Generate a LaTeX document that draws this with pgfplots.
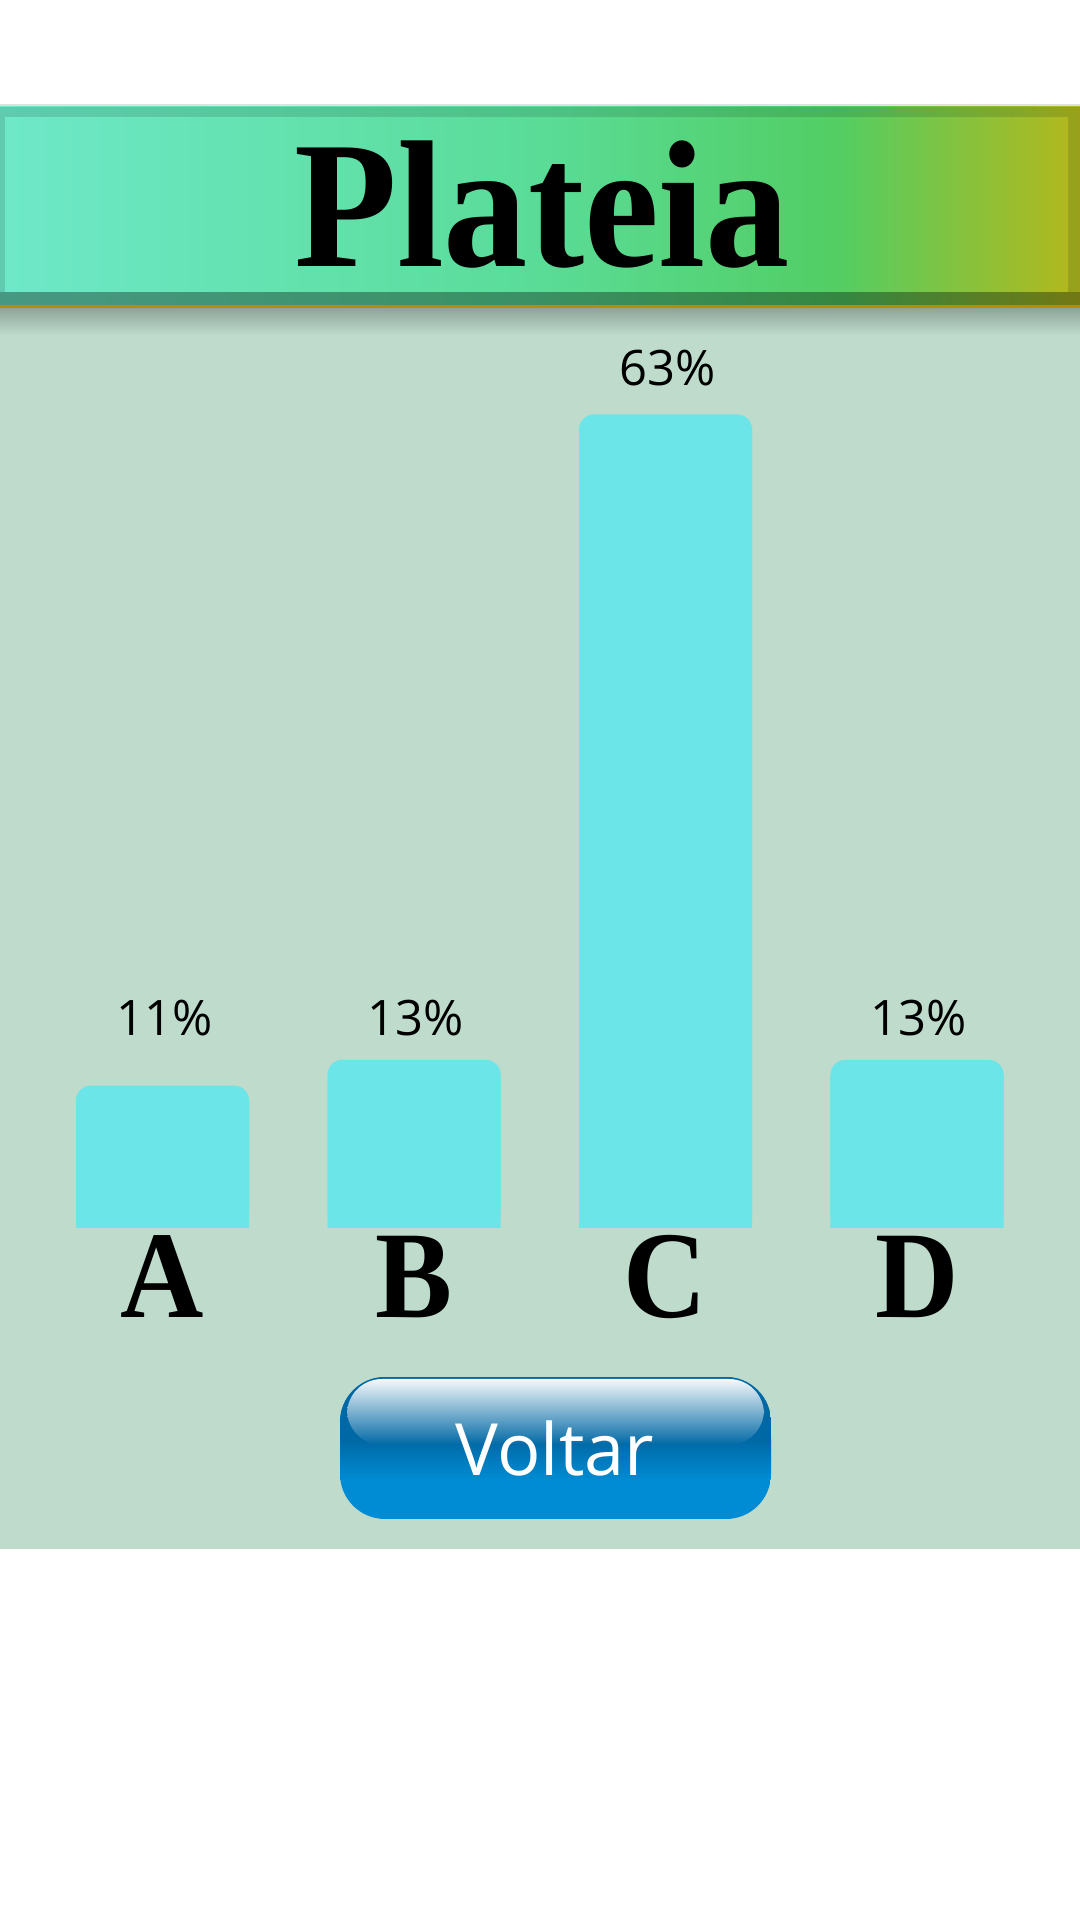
\documentclass[border=0pt]{standalone}
\usepackage{pgfplots}
\pgfplotsset{compat=1.18}
\usepackage{fontspec}
\setmainfont{Open Sans}
\newfontfamily\dispfont[FakeStretch=0.93]{Liberation Serif Bold}

\definecolor{bg}{RGB}{190,219,204}
\definecolor{barc}{RGB}{107,229,232}
\definecolor{h1}{RGB}{110,232,200}
\definecolor{h2}{RGB}{90,220,152}
\definecolor{h3}{RGB}{82,206,100}
\definecolor{h4}{RGB}{176,184,30}
\definecolor{gold}{RGB}{184,140,0}
\definecolor{btnlo}{RGB}{0,140,212}
\definecolor{btnmid}{RGB}{0,104,165}
\definecolor{btnhi}{RGB}{245,248,250}

\pgfdeclarehorizontalshading{hdr}{100bp}{color(0bp)=(h1); color(25bp)=(h1); color(50bp)=(h2); color(64bp)=(h3); color(75bp)=(h4); color(100bp)=(h4)}

\begin{document}
\begin{tikzpicture}[x=0.01cm,y=0.01cm]
% page and panel
\fill[white] (0,0) rectangle (1080,1920);
\fill[bg] (0,371) rectangle (1080,1612);
\shade[top color=black!25!bg, bottom color=bg] (0,1585) rectangle (1080,1612);
\fill[black!12] (0,1813) rectangle (1080,1816);

% header
\shade[shading=hdr] (0,1612) rectangle (1080,1813);
\fill[black,opacity=0.12] (0,1612) rectangle (1080,1813);
\shade[shading=hdr] (5,1628) rectangle (1068,1802);
\fill[black,opacity=0.25] (0,1615) rectangle (1080,1628);
\fill[gold] (0,1612) rectangle (1080,1615);
\node[anchor=base, inner sep=0pt] at (542,1653) {\fontsize{51.5}{60}\selectfont\dispfont Plateia};

% button
\begin{scope}
\clip[rounded corners=0.45cm] (340,401) rectangle (771,543);
\fill[btnlo] (340,401) rectangle (771,543);
\shade[top color=btnmid, bottom color=btnlo] (340,440) rectangle (771,480);
\fill[btnmid] (340,480) rectangle (771,543);
\end{scope}
\shade[rounded corners=0.35cm, top color=btnhi, bottom color=btnmid] (347,475) rectangle (764,541);
\node[anchor=base, inner sep=0pt, text=white] at (555,444) {\fontsize{20.5}{24}\selectfont Voltar};

\begin{axis}[
    at={(0.368cm,6.92cm)}, anchor=south west,
    scale only axis,
    width=10.054cm, height=9.03cm,
    xmin=-0.5, xmax=3.5, ymin=0, ymax=70,
    ybar, bar width=1.73cm, bar shift=0pt,
    axis line style={draw=none},
    tick style={draw=none},
    ytick=\empty,
    xtick={0,1,2,3},
    xticklabels={A,B,C,D},
    xticklabel style={anchor=base, inner sep=0pt, yshift=-0.75cm,
        font=\fontsize{35.3}{40}\selectfont\dispfont},
]
\addplot[fill=barc, draw=none, rounded corners=0.15cm]
    coordinates {(0,11) (1,13) (2,63) (3,13)};
\addplot[fill=barc, draw=none, yshift=-0.15cm]
    coordinates {(0,11) (1,13) (2,63) (3,13)};
% value labels (small bars share one label height)
\addplot[draw=none, fill=none,
    point meta=explicit symbolic,
    nodes near coords={\pgfplotspointmeta\%},
    every node near coord/.append style={anchor=south, inner sep=0pt, text depth=0pt,
        xshift=0.02cm, font=\fontsize{13.9}{16}\selectfont, text=black}]
    table[meta=lab] {
x y lab
0 14.8 11
1 14.8 13
2 65.2 63
3 14.8 13
};
\end{axis}
\end{tikzpicture}
\end{document}
